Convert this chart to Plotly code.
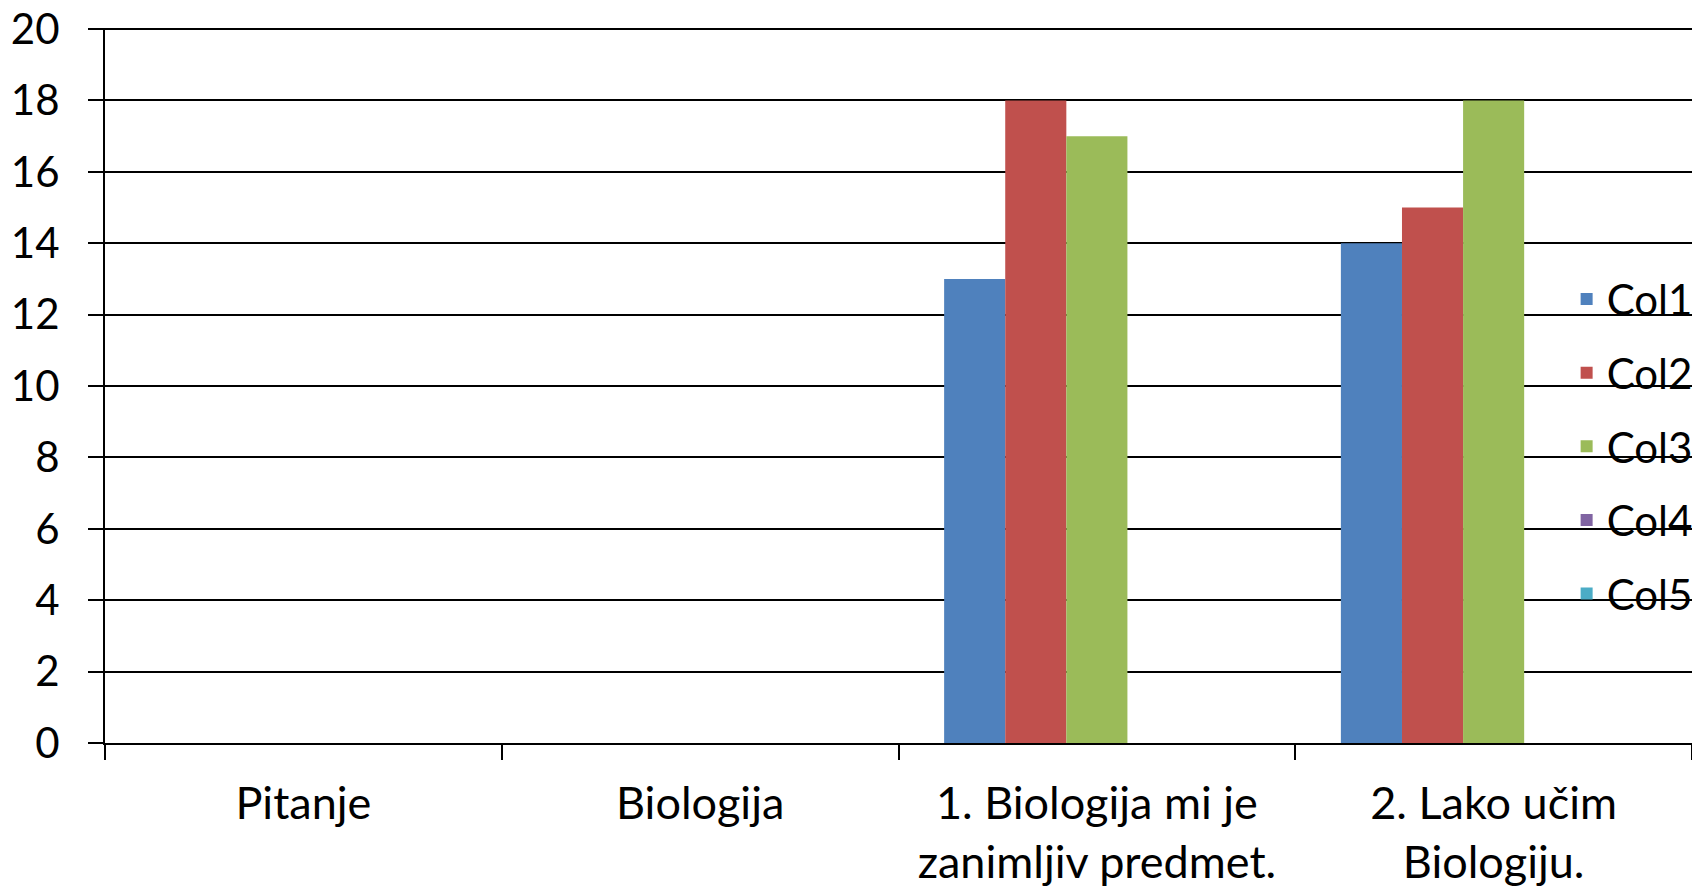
import plotly.graph_objects as go

categories = ["Pitanje", "Biologija", "1. Biologija mi je<br>zanimljiv predmet.", "2. Lako učim<br>Biologiju."]
col1 = [None, None, 13, 14]
col2 = [None, None, 18, 15]
col3 = [None, None, 17, 18]
col4 = [None, None, None, None]
col5 = [None, None, None, None]

series_names = ["Col1", "Col2", "Col3", "Col4", "Col5"]
series_values = [col1, col2, col3, col4, col5]
colors = ["#4F81BD", "#C0504D", "#9BBB59", "#8064A2", "#4BACC6"]

FONT = "Lato, Open Sans, sans-serif"

fig = go.Figure()
for name, vals, c in zip(series_names, series_values, colors):
    fig.add_trace(go.Bar(
        x=categories, y=vals, name=name, legendgroup=name,
        marker=dict(color=c, line=dict(width=0)),
    ))

# page body adds an 8px offset, margins compensate for it
fig.update_layout(
    width=1700, height=889,
    margin=dict(l=97, r=16, t=20, b=154, autoexpand=False),
    paper_bgcolor="white", plot_bgcolor="white",
    barmode="group", bargap=0.23, bargroupgap=0,
    font=dict(family=FONT, size=42, color="black"),
    showlegend=True,
    legend=dict(
        x=0.921, xanchor="left", y=0.415, yanchor="middle",
        bgcolor="rgba(0,0,0,0)", traceorder="grouped", tracegroupgap=16,
        font=dict(family=FONT, size=42, color="black"),
    ),
)
fig.update_xaxes(
    type="category", tickson="boundaries", ticks="outside", ticklen=15,
    tickwidth=2, tickcolor="black", showline=True, linecolor="black",
    linewidth=2, showgrid=False, ticklabelstandoff=20, automargin=False,
    tickfont=dict(size=45),
)
fig.update_yaxes(
    range=[0, 20.03], tickvals=list(range(0, 21, 2)), ticks="outside",
    ticklen=15, tickwidth=2,
    tickcolor="black", showline=True, linecolor="black", linewidth=2,
    showgrid=True, gridcolor="black", gridwidth=2, zeroline=False,
    ticklabelstandoff=20, automargin=False, ticklabeloverflow="allow",
)

fig.write_html("out.html")
